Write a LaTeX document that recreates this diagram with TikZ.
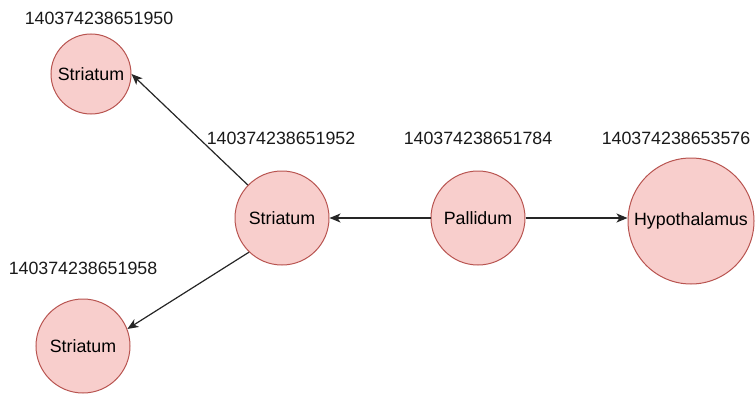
\documentclass[tikz,border=0pt]{standalone}
\usepackage{fontspec}
\setmainfont{Liberation Sans}
\usetikzlibrary{arrows.meta}
\definecolor{fillpink}{HTML}{F8CECC}
\definecolor{strokered}{HTML}{B85450}
\begin{document}
\begin{tikzpicture}[x=1pt,y=-1pt,
  ent/.style={circle,draw=strokered,fill=fillpink,line width=1pt,inner sep=0pt,font=\fontsize{17.8}{20}\selectfont},
  idlbl/.style={font=\fontsize{17.8}{20}\selectfont,inner sep=0pt,text=black!90},
  conn/.style={-{Stealth[length=11pt,width=9pt,inset=3pt]},line width=1.2pt,draw=black!85}]
\useasboundingbox (0,0) rectangle (755,396);
\node[ent,minimum size=80pt] (top) at (91,74) {Striatum};
\node[ent,minimum size=94pt] (mid) at (282,218) {Striatum};
\node[ent,minimum size=94pt] (bot) at (83,346) {Striatum};
\node[ent,minimum size=94pt] (pal) at (478,218) {Pallidum};
\node[ent,minimum size=126pt] (hyp) at (691,221) {Hypothalamus};
\node[idlbl] (ltop) at (99,18) {140374238651950};
\node[idlbl] (lmid) at (281,138) {140374238651952};
\node[idlbl] (lpal) at (478,138) {140374238651784};
\node[idlbl] (lhyp) at (676,138) {140374238653576};
\node[idlbl] (lbot) at (83,268) {140374238651958};
\draw[conn] (mid.136) -- (top.east);
\draw[conn] (mid.226) -- (bot.21);
\draw[conn] (pal.west) -- (mid.east);
\draw[conn] (pal.east) -- (hyp.west |- pal.east);
\end{tikzpicture}
\end{document}
